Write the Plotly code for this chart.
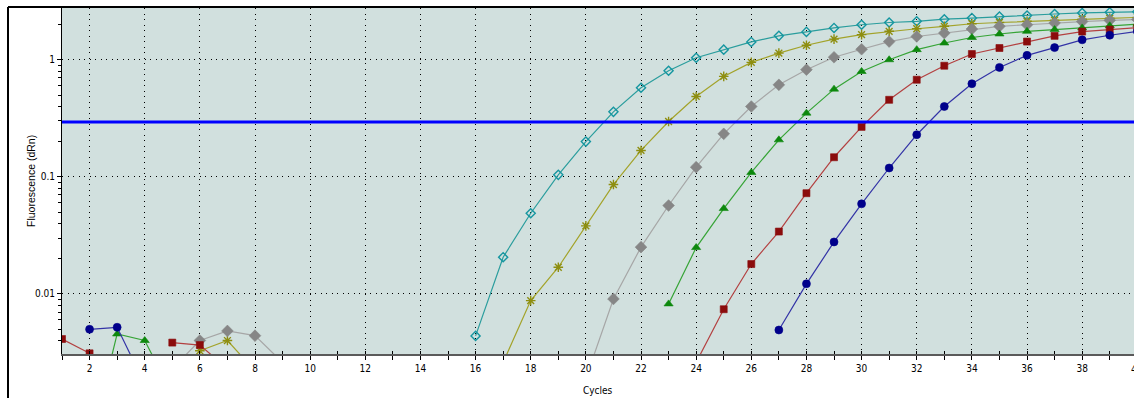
import plotly.graph_objects as go

cycles = list(range(1, 41))
N = None

cyan_vals = [N]*15 + [0.00438, 0.0206, 0.0489, 0.104, 0.200, 0.359, 0.576, 0.805, 1.04, 1.22,
                      1.42, 1.60, 1.73, 1.87, 1.99, 2.08, 2.13, 2.22, 2.27, 2.34,
                      2.39, 2.46, 2.51, 2.54, 2.57]
olive_vals = [N, N, N, N, N, 0.00327, 0.0040, 0.0022] + [N]*8 + \
             [0.0026, 0.00877, 0.0169, 0.0381, 0.0859, 0.168, 0.297, 0.486, 0.721, 0.949,
              1.14, 1.33, 1.50, 1.64, 1.75, 1.84, 1.93, 2.03, 2.08, 2.13,
              2.18, 2.22, 2.26, 2.30]
grey_vals = [N, N, N, N, 0.0023, 0.0040, 0.00483, 0.0044, 0.0026] + [N]*10 + \
            [0.0019, 0.00906, 0.0251, 0.0569, 0.121, 0.233, 0.399, 0.611, 0.822, 1.05,
             1.23, 1.43, 1.58, 1.69, 1.83, 1.93, 1.99, 2.06, 2.12, 2.17, 2.21]
green_vals = [N, 0.0005, 0.00455, 0.0040, 0.0014] + [N]*17 + \
             [0.00822, 0.0249, 0.0536, 0.109, 0.207, 0.350, 0.561, 0.794, 1.00, 1.22,
              1.39, 1.55, 1.66, 1.75, 1.81, 1.87, 1.95, 2.01]
red_vals = [0.00412, 0.00311, N, N, 0.00384, 0.00366, 0.0023] + [N]*16 + \
           [0.0026, 0.0074, 0.018, 0.0341, 0.0725, 0.147, 0.267, 0.455, 0.675, 0.889,
            1.12, 1.26, 1.43, 1.60, 1.74, 1.81, 1.88]
navy_vals = [N, 0.00499, 0.00519, 0.0017] + [N]*22 + \
            [0.00492, 0.0122, 0.0278, 0.0588, 0.119, 0.229, 0.399, 0.624, 0.86, 1.09,
             1.27, 1.48, 1.62, 1.75]

threshold = 0.294

x_ticks = list(range(2, 41, 2))
y_ticks = [0.01, 0.1, 1]
y_tick_text = ["0.01", "0.1", "1"]
x_title = "Cycles"
y_title = "Fluorescence (dRn)"

series = [
    ("cyan", cyan_vals, "#2A9D9D", "#1596A0", "diamond-open", 7),
    ("olive", olive_vals, "#A3A32A", "#8E8E10", "asterisk-open", 8),
    ("grey", grey_vals, "#A6A6A6", "#868686", "diamond", 9),
    ("green", green_vals, "#36A436", "#0D880D", "triangle-up", 8),
    ("red", red_vals, "#B34040", "#8B0C0C", "square", 7),
    ("navy", navy_vals, "#3333A6", "#00008B", "circle", 8),
]

fig = go.Figure()
for name, vals, lc, mc, sym, sz in series:
    open_sym = sym.endswith("open")
    fig.add_trace(go.Scatter(
        x=cycles, y=vals, mode="lines+markers", name=name,
        line=dict(color=lc, width=1.2),
        marker=dict(symbol=sym, size=sz, color=mc,
                    line=dict(color=mc, width=1.4 if open_sym else 0.6)),
        connectgaps=False, showlegend=False, hoverinfo="skip",
    ))

fig.add_trace(go.Scatter(
    x=[cycles[0], cycles[-1]], y=[threshold, threshold], mode="lines",
    line=dict(color="#0000FF", width=3), showlegend=False, hoverinfo="skip"))

fig.add_trace(go.Scatter(x=[cycles[0]], y=[None], xaxis="x2", showlegend=False,
                         hoverinfo="skip", mode="markers"))

TICKFONT = "Liberation Sans Narrow, Arial Narrow, DejaVu Sans Condensed, Liberation Sans, sans-serif"
FONT = "Liberation Sans, Arial, sans-serif"
XR = [1, 39.88]
dotdash = "1px,4.5px"
PW, PH = 1072, 346

minor_y = []
for base in (0.001, 0.01, 0.1, 1):
    for k in range(2, 10):
        minor_y.append(base * k)

fig.update_layout(
    width=1134, height=398,
    margin=dict(l=62, r=0, t=8, b=44, autoexpand=False),
    paper_bgcolor="white", plot_bgcolor="#D1E0DE",
    font=dict(family=FONT, size=10, color="#000"),
    xaxis=dict(
        range=XR, tickvals=x_ticks, ticktext=[str(v) for v in x_ticks],
        ticks="outside", ticklen=4, tickcolor="#000", tickwidth=1,
        showgrid=True, gridcolor="#000", gridwidth=1, griddash=dotdash,
        minor=dict(dtick=1, tick0=0, ticks="outside", ticklen=4, tickcolor="#000", showgrid=False),
        showline=True, linecolor="#5A5A5A", linewidth=2,
        tickfont=dict(size=10, family=TICKFONT),
        zeroline=False, automargin=False,
    ),
    xaxis2=dict(
        range=XR, overlaying="x", anchor="y", side="bottom",
        tickvals=cycles, ticks="inside", ticklen=3, tickcolor="#000",
        showticklabels=False, showgrid=False, showline=False, zeroline=False,
    ),
    yaxis=dict(
        type="log", range=[-2.513, 0.442],
        tickvals=y_ticks, ticktext=y_tick_text,
        ticks="outside", ticklen=4, tickcolor="#000",
        showgrid=True, gridcolor="#000", gridwidth=1, griddash=dotdash,
        minor=dict(tickvals=minor_y, ticks="outside", ticklen=3, tickcolor="#000", showgrid=False),
        showline=True, linecolor="#000", linewidth=1,
        tickfont=dict(size=10, family=TICKFONT),
        zeroline=False, automargin=False,
    ),
    annotations=[
        dict(text=y_title, xref="paper", yref="paper", x=(31 - 62) / PW, y=0.5,
             textangle=-90, showarrow=False, xanchor="center", yanchor="middle",
             font=dict(size=10.5, family=FONT, color="#000")),
        dict(text=x_title, xref="paper", yref="paper", x=0.5, y=(354 - 390) / PH,
             showarrow=False, xanchor="center", yanchor="middle",
             font=dict(size=10, family=TICKFONT, color="#000")),
        dict(text=str(x_ticks[-1]), xref="paper", yref="paper",
             x=(x_ticks[-1] - XR[0]) / (XR[1] - XR[0]), y=(354 - 369) / PH,
             showarrow=False, xanchor="center", yanchor="middle",
             font=dict(size=10, family=TICKFONT, color="#000")),
    ],
    shapes=[
        dict(type="line", xref="paper", yref="paper",
             x0=-54 / PW, x1=-54 / PW, y0=-44 / PH - 0.01, y1=1 + 1 / PH,
             line=dict(color="#000", width=2)),
        dict(type="line", xref="paper", yref="paper",
             x0=-54 / PW, x1=1.01, y0=1 + 1 / PH, y1=1 + 1 / PH,
             line=dict(color="#000", width=2)),
    ],
)

fig.write_html("out.html", config={"displayModeBar": False},
               post_script="document.body.style.margin='0';document.body.style.overflow='hidden';")
